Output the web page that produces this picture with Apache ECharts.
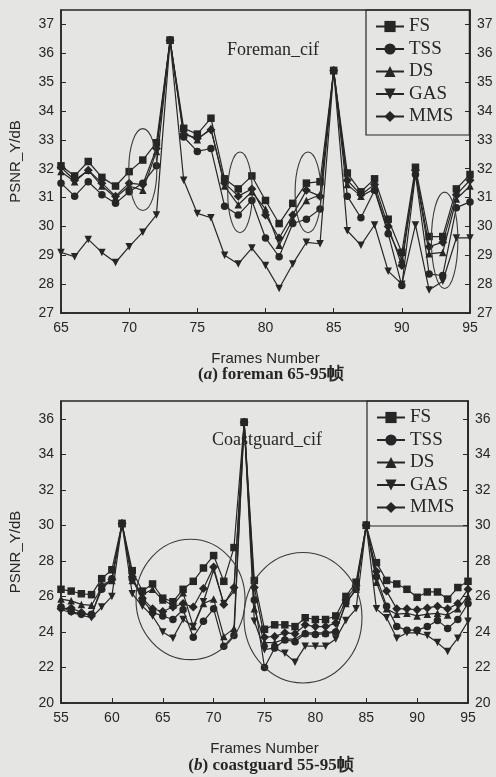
<!DOCTYPE html>
<html>
<head>
<meta charset="utf-8">
<script src="https://cdn.jsdelivr.net/npm/echarts@6/dist/echarts.min.js"></script>
<style>
  html, body { margin: 0; padding: 0; background: #e5e5e3; }
  #echart { width: 496px; height: 777px; }
</style>
</head>
<body>
<div id="echart"></div>
<script>
// foreman 65-95
const framesA = [65,66,67,68,69,70,71,72,73,74,75,76,77,78,79,80,81,82,83,84,85,86,87,88,89,90,91,92,93,94,95];
const fsA  = [32.1,31.75,32.25,31.7,31.4,31.9,32.3,32.9,36.45,33.4,33.2,33.75,31.65,31.3,31.75,30.9,30.1,30.8,31.5,31.55,35.4,31.85,31.2,31.65,30.25,29.1,32.05,29.65,29.65,31.3,31.8];
const tssA = [31.5,31.05,31.55,31.1,30.8,31.2,31.5,32.1,36.45,33.1,32.6,32.7,30.7,30.4,30.9,29.6,28.95,30.1,30.25,30.6,35.4,31.05,30.3,31.25,29.75,27.95,31.8,28.35,28.3,30.65,30.85];
const dsA  = [31.9,31.55,31.95,31.4,31.0,31.4,31.25,32.6,36.45,33.25,33.0,33.4,31.4,30.75,31.2,30.6,29.35,30.25,30.9,31.1,35.4,31.45,31.05,31.3,29.85,28.85,31.9,29.05,29.1,30.95,31.4];
const gasA = [29.1,28.95,29.55,29.1,28.75,29.3,29.8,30.4,36.45,31.6,30.45,30.3,29.0,28.7,29.25,28.65,27.85,28.7,29.45,29.4,35.4,29.85,29.35,30.05,28.45,28.0,30.05,27.8,28.1,29.6,29.6];
const mmsA = [32.05,31.6,31.95,31.5,31.05,31.5,31.45,32.7,36.45,33.2,33.05,33.35,31.5,31.05,31.3,30.4,29.6,30.4,31.25,31.05,35.4,31.6,31.1,31.45,30.0,28.65,31.95,29.3,29.45,31.1,31.6];

// coastguard 55-95
const framesB = [55,56,57,58,59,60,61,62,63,64,65,66,67,68,69,70,71,72,73,74,75,76,77,78,79,80,81,82,83,84,85,86,87,88,89,90,91,92,93,94,95];
const fsB  = [26.4,26.3,26.15,26.1,27.0,27.5,30.1,27.45,26.3,26.7,25.9,25.7,26.4,26.85,27.6,28.3,26.85,28.75,35.8,26.9,24.15,24.4,24.4,24.3,24.8,24.7,24.7,24.9,26.0,26.8,30.0,27.9,26.9,26.7,26.4,25.95,26.25,26.25,25.85,26.5,26.85];
const tssB = [25.4,25.15,25.0,25.0,26.4,27.0,30.1,27.0,25.8,25.1,24.9,24.7,25.25,23.7,24.6,25.3,23.2,23.8,35.8,25.8,22.0,23.1,23.55,23.45,23.9,23.85,23.9,24.0,25.65,26.4,30.0,27.1,25.45,24.3,24.1,24.1,24.3,24.65,24.2,24.7,25.6];
const dsB  = [25.85,25.75,25.55,25.5,26.5,26.9,30.1,26.9,26.1,26.4,25.8,25.5,26.2,24.3,25.6,25.85,23.75,24.2,35.8,25.3,23.4,23.4,23.6,23.6,23.95,23.95,23.95,24.05,25.6,26.4,30.0,26.8,25.3,25.0,25.05,24.9,25.0,25.05,24.95,25.3,26.0];
const gasB = [25.25,25.1,24.95,24.8,25.4,26.0,30.1,26.15,25.45,24.9,24.0,23.65,24.7,24.3,25.7,27.5,25.6,26.3,35.8,24.6,23.0,23.1,22.8,22.3,23.2,23.2,23.2,23.6,24.65,25.3,30.0,25.3,24.8,23.65,23.95,23.95,23.8,23.4,22.9,23.65,24.6];
const mmsB = [25.3,25.35,25.1,24.9,26.6,26.95,30.1,27.1,25.9,25.3,25.15,25.4,25.6,25.4,26.45,27.65,25.55,26.5,35.8,26.5,23.7,23.75,23.95,23.9,24.4,24.3,24.3,24.5,25.8,26.6,30.0,27.4,26.3,25.3,25.3,25.25,25.35,25.45,25.3,25.6,26.4];

const names = ["FS", "TSS", "DS", "GAS", "MMS"];
const symbols = ["rect", "circle", "triangle", "triangle", "diamond"];
const rotates = [0, 0, 0, 180, 0];

// highlighted regions: [frame, psnr, rxFrames, ryDb]
const ellipsesA = [[71, 31.97, 1.03, 1.42], [78.13, 31.18, 0.9, 1.4], [83.12, 31.18, 0.95, 1.4], [93.14, 29.52, 0.97, 1.67]];
const ellipsesB = [[67.73, 25.83, 5.36, 3.39], [78.78, 24.8, 5.8, 3.67]];

const ink = "#262626";
const sans = "Liberation Sans";
const serif = "Liberation Serif";

const pair = (xs, ys) => xs.map((x, i) => [x, ys[i]]);

const makeSeries = (grid, xs, list) =>
  list.map((ys, k) => ({
    name: names[k],
    type: "line",
    xAxisIndex: grid,
    yAxisIndex: grid * 2,
    data: pair(xs, ys),
    symbol: symbols[k],
    symbolRotate: rotates[k],
    symbolSize: k === 4 ? 9 : 7.5,
    showAllSymbol: true,
    lineStyle: { color: ink, width: 1.2 },
    itemStyle: { color: ink },
    emphasis: { disabled: true },
    animation: false,
  }));

const xAx = (grid, min, max) => ({
  type: "value", gridIndex: grid, min: min, max: max, interval: 5,
  name: "Frames Number", nameLocation: "middle", nameGap: 38,
  nameTextStyle: { fontFamily: sans, fontSize: 15, color: ink },
  axisLine: { lineStyle: { color: ink, width: 1.5 } },
  axisTick: { inside: true, length: 5, lineStyle: { color: ink } },
  axisLabel: { fontFamily: sans, fontSize: 14, color: ink, margin: 8 },
  splitLine: { show: false },
});

const yAx = (grid, min, max, step, side) => ({
  type: "value", gridIndex: grid, min: min, max: max, interval: step, position: side,
  name: side === "left" ? "PSNR_Y/dB" : "", nameLocation: "middle", nameGap: 38,
  nameTextStyle: { fontFamily: sans, fontSize: 15, color: ink },
  axisLine: { show: true, lineStyle: { color: ink, width: 1.5 } },
  axisTick: { show: true, inside: true, length: 5, lineStyle: { color: ink } },
  axisLabel: { fontFamily: sans, fontSize: 14, color: ink, margin: 7, showMaxLabel: false },
  splitLine: { show: false },
});

const legendFor = (top, left, padRight) => ({
  orient: "vertical", left: left, top: top,
  data: names, itemWidth: 28, itemHeight: 14, itemGap: 3.5,
  padding: [7, padRight, 9, 9],
  borderColor: ink, borderWidth: 1.2,
  textStyle: { fontFamily: serif, fontSize: 19, lineHeight: 19, color: ink },
  inactiveColor: ink, selectedMode: false,
});

const caption = (top, letter, rest) => ({
  text: "(" + "{i|" + letter + "}" + ") " + rest,
  left: 266, top: top, textAlign: "center",
  textStyle: {
    fontFamily: serif, fontSize: 17, fontWeight: "bold", color: ink,
    rich: { i: { fontFamily: serif, fontSize: 17, fontWeight: "bold", fontStyle: "italic", color: ink } },
  },
});

const chart = echarts.init(document.getElementById("echart"), null, { renderer: "canvas" });

chart.setOption({
  backgroundColor: "#e5e5e3",
  animation: false,
  title: [
    { text: "Foreman_cif", left: 222, top: 36, textStyle: { fontFamily: serif, fontSize: 18, fontWeight: "normal", color: ink } },
    { text: "Coastguard_cif", left: 207, top: 426, textStyle: { fontFamily: serif, fontSize: 18, fontWeight: "normal", color: ink } },
    caption(361, "a", "foreman 65-95帧"),
    caption(752, "b", "coastguard 55-95帧"),
  ],
  legend: [legendFor(10, 366, 16), legendFor(401, 367, 14)],
  grid: [
    { left: 61, top: 10, width: 409, height: 303, show: true, borderColor: ink, borderWidth: 1.5 },
    { left: 61, top: 401, width: 407, height: 302, show: true, borderColor: ink, borderWidth: 1.5 },
  ],
  xAxis: [xAx(0, 65, 95), xAx(1, 55, 95)],
  yAxis: [
    yAx(0, 27, 37.5, 1, "left"), yAx(0, 27, 37.5, 1, "right"),
    yAx(1, 20, 37, 2, "left"), yAx(1, 20, 37, 2, "right"),
  ],
  series: makeSeries(0, framesA, [fsA, tssA, dsA, gasA, mmsA])
    .concat(makeSeries(1, framesB, [fsB, tssB, dsB, gasB, mmsB])),
});

// draw the highlight ellipses in data coordinates
const toEllipse = (grid, e) => {
  const c = chart.convertToPixel({ gridIndex: grid }, [e[0], e[1]]);
  const p = chart.convertToPixel({ gridIndex: grid }, [e[0] + e[2], e[1] + e[3]]);
  return {
    type: "ellipse",
    shape: { cx: c[0], cy: c[1], rx: Math.abs(p[0] - c[0]), ry: Math.abs(p[1] - c[1]) },
    style: { fill: null, stroke: "#3a3a3a", lineWidth: 1.1 },
    silent: true, z: 50,
  };
};

chart.setOption({
  graphic: ellipsesA.map(e => toEllipse(0, e)).concat(ellipsesB.map(e => toEllipse(1, e))),
});
</script>
</body>
</html>
